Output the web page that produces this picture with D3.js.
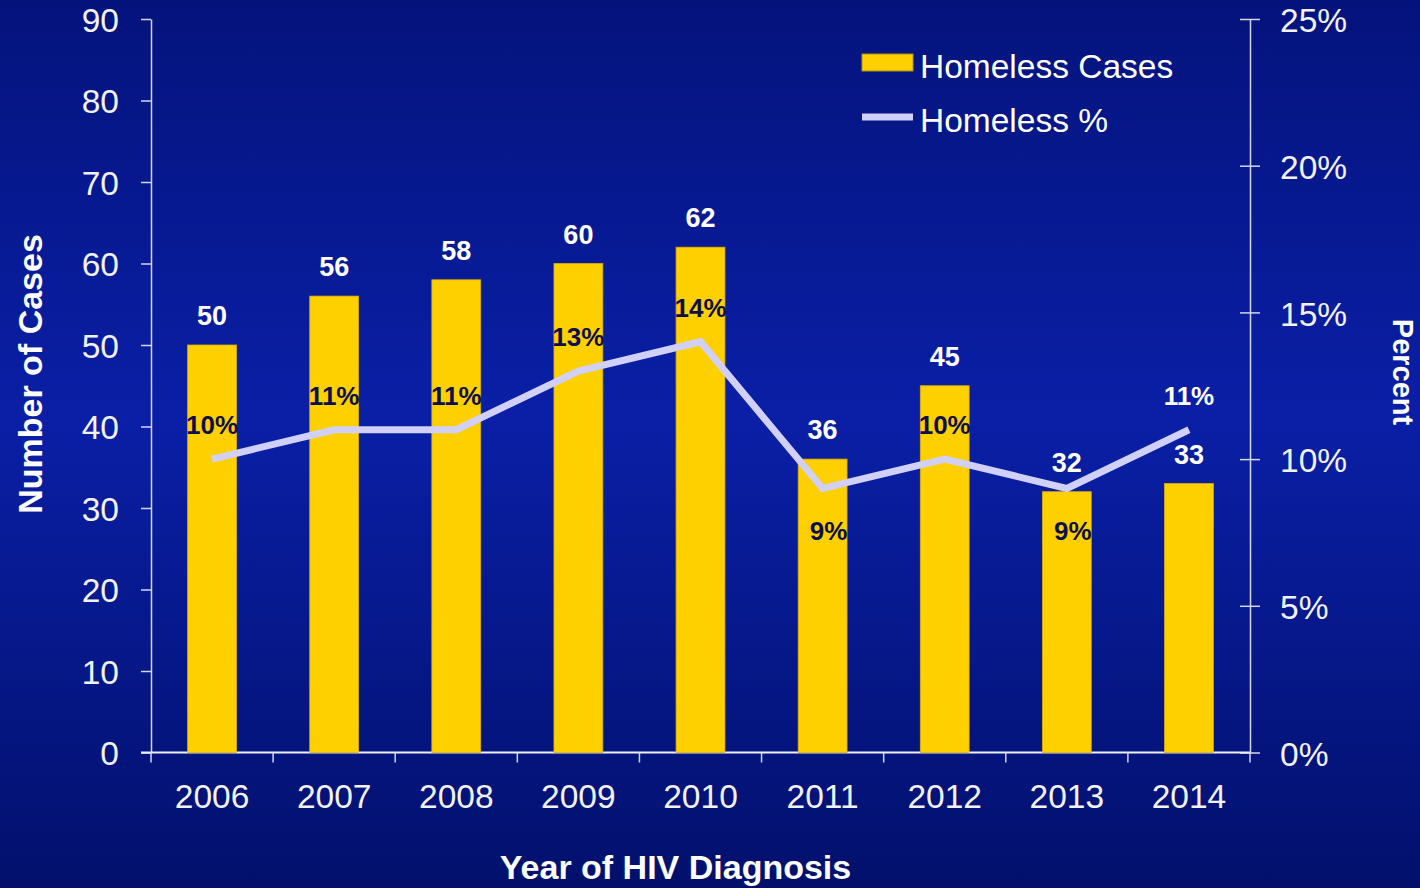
<!DOCTYPE html>
<html>
<head>
<meta charset="utf-8">
<script src="https://cdn.jsdelivr.net/npm/d3@7"></script>
<style>
  html, body { margin: 0; padding: 0; background: #061a90; }
  svg { display: block; font-family: "Liberation Sans", Arial, sans-serif; }
</style>
</head>
<body>
<svg id="chart" width="1420" height="888"></svg>
<script>
// Homeless HIV diagnoses by year: case counts (bars) and share of all cases (line)
const years = ["2006", "2007", "2008", "2009", "2010", "2011", "2012", "2013", "2014"];
const homelessCases = [50, 56, 58, 60, 62, 36, 45, 32, 33];
const homelessPct = [10, 11, 11, 13, 14, 9, 10, 9, 11];
// where each percent label sits relative to its point
const pctLabelSide = ["above", "above", "above", "above", "above", "below", "above", "below", "above"];
const leftTicks = [0, 10, 20, 30, 40, 50, 60, 70, 80, 90];
const rightTicks = [0, 5, 10, 15, 20, 25];

const svg = d3.select("#chart");
const W = 1420, H = 888;

// background
const defs = svg.append("defs");
const grad = defs.append("linearGradient").attr("id", "bg").attr("x1", 0).attr("y1", 0).attr("x2", 0).attr("y2", 1);
grad.append("stop").attr("offset", "0%").attr("stop-color", "#04137c");
grad.append("stop").attr("offset", "47%").attr("stop-color", "#0a1fa6");
grad.append("stop").attr("offset", "100%").attr("stop-color", "#02106c");
svg.append("rect").attr("width", W).attr("height", H).attr("fill", "url(#bg)");

const plot = { left: 151, right: 1250, top: 19, bottom: 752.5 };

const x = d3.scaleBand().domain(years).range([plot.left, plot.right]).paddingInner(0.6).paddingOuter(0.3);
const yL = d3.scaleLinear().domain([0, 90]).range([plot.bottom, plot.top]);
const yR = d3.scaleLinear().domain([0, 25]).range([plot.bottom, plot.top]);
const cx = d => x(d) + x.bandwidth() / 2;

const axisColor = "#d4d6ee";
const tickText = "#f2f2f6";

// left axis
const gL = svg.append("g").attr("transform", `translate(${plot.left},0)`)
  .call(d3.axisLeft(yL).tickValues(leftTicks).tickSize(10).tickPadding(22).tickSizeOuter(0));
gL.select(".domain").attr("stroke", axisColor).attr("stroke-width", 1.5);
gL.selectAll(".tick line").attr("stroke", axisColor).attr("stroke-width", 1.5);
gL.selectAll(".tick text").attr("fill", tickText).attr("font-size", 33.5)
  .attr("font-family", "'Liberation Sans', Arial, sans-serif").attr("dy", "0.36em");

// right axis, ticks cross the line
const gR = svg.append("g").attr("transform", `translate(${plot.right},0)`)
  .call(d3.axisRight(yR).tickValues(rightTicks).tickFormat(d => d + "%").tickSize(10).tickPadding(20).tickSizeOuter(0));
gR.select(".domain").attr("stroke", axisColor).attr("stroke-width", 1.5);
gR.selectAll(".tick line").attr("x1", -10).attr("x2", 10).attr("stroke", axisColor).attr("stroke-width", 1.5);
gR.selectAll(".tick text").attr("fill", tickText).attr("font-size", 33.5)
  .attr("font-family", "'Liberation Sans', Arial, sans-serif").attr("dy", "0.38em");

// bottom axis: ticks on category boundaries
const boundaries = d3.range(years.length + 1).map(i => plot.left + i * x.step());
const gB = svg.append("g");
gB.append("line").attr("x1", plot.left - 10).attr("x2", plot.right)
  .attr("y1", plot.bottom).attr("y2", plot.bottom).attr("stroke", "#eef0ff").attr("stroke-width", 2);
gB.selectAll("line.tk").data(boundaries).join("line").attr("class", "tk")
  .attr("x1", d => d).attr("x2", d => d).attr("y1", plot.bottom).attr("y2", plot.bottom + 10)
  .attr("stroke", axisColor).attr("stroke-width", 1.5);
gB.selectAll("text").data(years).join("text")
  .attr("x", d => cx(d)).attr("y", 808).attr("text-anchor", "middle")
  .attr("fill", tickText).attr("font-size", 33.5).text(d => d);

// bars
svg.append("g").selectAll("rect").data(years).join("rect")
  .attr("x", d => x(d)).attr("width", x.bandwidth())
  .attr("y", (d, i) => yL(homelessCases[i]))
  .attr("height", (d, i) => plot.bottom - yL(homelessCases[i]))
  .attr("fill", "#ffd000").attr("stroke", "#d9b000").attr("stroke-width", 0.8);

// bar value labels
svg.append("g").selectAll("text").data(years).join("text")
  .attr("x", d => cx(d)).attr("y", (d, i) => yL(homelessCases[i]) - 20)
  .attr("text-anchor", "middle").attr("fill", "#ffffff").attr("font-weight", "bold").attr("font-size", 27)
  .text((d, i) => homelessCases[i]);

// percent line
const line = d3.line().x(d => cx(d.year)).y(d => yR(d.pct));
const pts = years.map((yr, i) => ({ year: yr, pct: homelessPct[i] }));
svg.append("path").datum(pts).attr("d", line)
  .attr("fill", "none").attr("stroke", "#d0d0fb").attr("stroke-width", 7)
  .attr("stroke-linejoin", "miter").attr("stroke-linecap", "butt");

// percent labels: dark on bars, white on background
const labelY = (d, i) => pctLabelSide[i] === "above" ? yR(d.pct) - 25 : yR(d.pct) + 52;
svg.append("g").selectAll("text").data(pts).join("text")
  .attr("x", (d, i) => cx(d.year) + (pctLabelSide[i] === "below" ? 6 : 0))
  .attr("y", labelY)
  .attr("text-anchor", "middle").attr("font-weight", "bold").attr("font-size", 26)
  .attr("fill", (d, i) => labelY(d, i) - 20 > yL(homelessCases[i]) ? "#0d0f4c" : "#ffffff")
  .text(d => d.pct + "%");

// axis titles
svg.append("text").attr("transform", "translate(42,374) rotate(-90)")
  .attr("text-anchor", "middle").attr("fill", "#ffffff").attr("font-weight", "bold").attr("font-size", 34)
  .text("Number of Cases");
svg.append("text").attr("transform", "translate(1393,372) rotate(90)")
  .attr("text-anchor", "middle").attr("fill", "#ffffff").attr("font-weight", "bold").attr("font-size", 29)
  .text("Percent");
svg.append("text").attr("x", 675.5).attr("y", 879)
  .attr("text-anchor", "middle").attr("fill", "#ffffff").attr("font-weight", "bold").attr("font-size", 34)
  .text("Year of HIV Diagnosis");

// legend
const lg = svg.append("g");
lg.append("rect").attr("x", 862).attr("y", 54).attr("width", 51).attr("height", 17)
  .attr("fill", "#ffd000").attr("stroke", "#b89400").attr("stroke-width", 1);
lg.append("text").attr("x", 920).attr("y", 78).attr("fill", "#ffffff").attr("font-size", 33.5).text("Homeless Cases");
lg.append("line").attr("x1", 862).attr("x2", 913).attr("y1", 117).attr("y2", 117)
  .attr("stroke", "#d0d0fb").attr("stroke-width", 7);
lg.append("text").attr("x", 920).attr("y", 132).attr("fill", "#ffffff").attr("font-size", 33.5).text("Homeless %");
</script>
</body>
</html>
